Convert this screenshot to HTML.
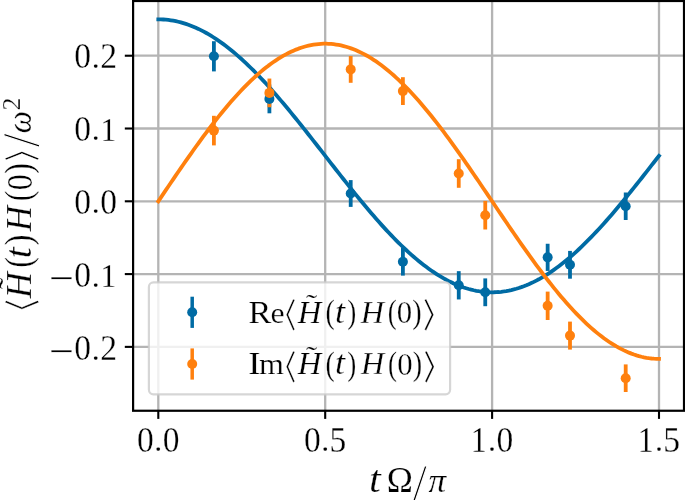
<!DOCTYPE html>
<html><head><meta charset="utf-8"><title>plot</title>
<style>html,body{margin:0;padding:0;background:#fff}svg{display:block}</style></head>
<body>
<svg width="685" height="500" viewBox="0 0 685 500">
<rect width="685" height="500" fill="#fff"/>
<g stroke="#b4b4b4" stroke-width="2.3" fill="none">
<line x1="158.30" y1="1.00" x2="158.30" y2="410.75"/>
<line x1="325.20" y1="1.00" x2="325.20" y2="410.75"/>
<line x1="492.10" y1="1.00" x2="492.10" y2="410.75"/>
<line x1="659.00" y1="1.00" x2="659.00" y2="410.75"/>
<line x1="133.10" y1="346.88" x2="684.00" y2="346.88"/>
<line x1="133.10" y1="274.09" x2="684.00" y2="274.09"/>
<line x1="133.10" y1="201.30" x2="684.00" y2="201.30"/>
<line x1="133.10" y1="128.51" x2="684.00" y2="128.51"/>
<line x1="133.10" y1="55.72" x2="684.00" y2="55.72"/>
</g>
<polyline points="158.30,19.33 160.80,19.36 163.31,19.48 165.81,19.67 168.31,19.93 170.82,20.27 173.32,20.69 175.82,21.18 178.33,21.74 180.83,22.38 183.34,23.10 185.84,23.88 188.34,24.74 190.85,25.68 193.35,26.68 195.85,27.76 198.36,28.91 200.86,30.13 203.36,31.42 205.87,32.77 208.37,34.20 210.87,35.69 213.38,37.25 215.88,38.88 218.38,40.57 220.89,42.33 223.39,44.14 225.89,46.02 228.40,47.96 230.90,49.97 233.41,52.03 235.91,54.14 238.41,56.32 240.92,58.54 243.42,60.83 245.92,63.16 248.43,65.55 250.93,67.99 253.43,70.47 255.94,73.01 258.44,75.58 260.94,78.21 263.45,80.87 265.95,83.58 268.45,86.33 270.96,89.12 273.46,91.94 275.96,94.80 278.47,97.70 280.97,100.62 283.48,103.58 285.98,106.56 288.48,109.57 290.99,112.61 293.49,115.68 295.99,118.76 298.50,121.86 301.00,124.99 303.50,128.13 306.01,131.29 308.51,134.46 311.01,137.64 313.52,140.83 316.02,144.03 318.52,147.24 321.03,150.45 323.53,153.66 326.03,156.88 328.54,160.09 331.04,163.31 333.55,166.51 336.05,169.72 338.55,172.91 341.06,176.10 343.56,179.27 346.06,182.43 348.57,185.58 351.07,188.71 353.57,191.82 356.08,194.91 358.58,197.98 361.08,201.03 363.59,204.05 366.09,207.04 368.59,210.01 371.10,212.95 373.60,215.85 376.10,218.72 378.61,221.56 381.11,224.36 383.62,227.12 386.12,229.84 388.62,232.52 391.13,235.16 393.63,237.75 396.13,240.30 398.64,242.80 401.14,245.26 403.64,247.66 406.15,250.01 408.65,252.31 411.15,254.56 413.66,256.75 416.16,258.89 418.66,260.97 421.17,262.99 423.67,264.95 426.17,266.85 428.68,268.69 431.18,270.46 433.69,272.18 436.19,273.82 438.69,275.41 441.20,276.92 443.70,278.37 446.20,279.75 448.71,281.06 451.21,282.30 453.71,283.48 456.22,284.58 458.72,285.61 461.22,286.57 463.73,287.45 466.23,288.26 468.73,289.00 471.24,289.67 473.74,290.26 476.24,290.77 478.75,291.21 481.25,291.58 483.75,291.87 486.26,292.08 488.76,292.22 491.27,292.28 493.77,292.27 496.27,292.18 498.78,292.02 501.28,291.78 503.78,291.46 506.29,291.07 508.79,290.61 511.29,290.07 513.80,289.45 516.30,288.76 518.80,288.00 521.31,287.16 523.81,286.25 526.31,285.27 528.82,284.22 531.32,283.09 533.83,281.90 536.33,280.63 538.83,279.30 541.34,277.89 543.84,276.42 546.34,274.89 548.85,273.28 551.35,271.61 553.85,269.88 556.36,268.08 558.86,266.22 561.36,264.30 563.87,262.32 566.37,260.28 568.87,258.18 571.38,256.03 573.88,253.82 576.38,251.55 578.89,249.23 581.39,246.86 583.89,244.44 586.40,241.97 588.90,239.46 591.41,236.89 593.91,234.28 596.41,231.63 598.92,228.94 601.42,226.20 603.92,223.43 606.43,220.62 608.93,217.77 611.43,214.89 613.94,211.97 616.44,209.02 618.94,206.05 621.45,203.04 623.95,200.01 626.45,196.96 628.96,193.88 631.46,190.78 633.97,187.67 636.47,184.53 638.97,181.38 641.48,178.21 643.98,175.04 646.48,171.85 648.99,168.65 651.49,165.45 653.99,162.24 656.50,159.02 659.00,155.81" fill="none" stroke="#006BA4" stroke-width="3.8" stroke-linejoin="round" stroke-linecap="square"/>
<polyline points="158.30,201.30 160.80,197.59 163.31,193.88 165.81,190.17 168.31,186.47 170.82,182.78 173.32,179.09 175.82,175.42 178.33,171.77 180.83,168.13 183.34,164.51 185.84,160.91 188.34,157.33 190.85,153.78 193.35,150.25 195.85,146.75 198.36,143.29 200.86,139.85 203.36,136.45 205.87,133.08 208.37,129.75 210.87,126.47 213.38,123.22 215.88,120.01 218.38,116.86 220.89,113.74 223.39,110.68 225.89,107.67 228.40,104.71 230.90,101.80 233.41,98.95 235.91,96.16 238.41,93.42 240.92,90.74 243.42,88.13 245.92,85.57 248.43,83.09 250.93,80.66 253.43,78.31 255.94,76.02 258.44,73.80 260.94,71.66 263.45,69.58 265.95,67.58 268.45,65.65 270.96,63.80 273.46,62.02 275.96,60.32 278.47,58.70 280.97,57.16 283.48,55.70 285.98,54.32 288.48,53.02 290.99,51.81 293.49,50.67 295.99,49.62 298.50,48.66 301.00,47.78 303.50,46.98 306.01,46.27 308.51,45.65 311.01,45.11 313.52,44.66 316.02,44.29 318.52,44.02 321.03,43.83 323.53,43.72 326.03,43.71 328.54,43.78 331.04,43.94 333.55,44.19 336.05,44.53 338.55,44.95 341.06,45.46 343.56,46.05 346.06,46.73 348.57,47.50 351.07,48.35 353.57,49.29 356.08,50.31 358.58,51.42 361.08,52.61 363.59,53.88 366.09,55.23 368.59,56.67 371.10,58.18 373.60,59.78 376.10,61.45 378.61,63.20 381.11,65.03 383.62,66.93 386.12,68.91 388.62,70.96 391.13,73.08 393.63,75.27 396.13,77.54 398.64,79.87 401.14,82.27 403.64,84.74 406.15,87.27 408.65,89.86 411.15,92.52 413.66,95.24 416.16,98.01 418.66,100.85 421.17,103.73 423.67,106.68 426.17,109.67 428.68,112.72 431.18,115.81 433.69,118.96 436.19,122.15 438.69,125.38 441.20,128.65 443.70,131.97 446.20,135.32 448.71,138.71 451.21,142.14 453.71,145.59 456.22,149.08 458.72,152.60 461.22,156.15 463.73,159.71 466.23,163.31 468.73,166.92 471.24,170.55 473.74,174.20 476.24,177.87 478.75,181.55 481.25,185.24 483.75,188.94 486.26,192.64 488.76,196.35 491.27,200.06 493.77,203.78 496.27,207.49 498.78,211.20 501.28,214.90 503.78,218.59 506.29,222.28 508.79,225.95 511.29,229.61 513.80,233.26 516.30,236.89 518.80,240.49 521.31,244.08 523.81,247.64 526.31,251.18 528.82,254.68 531.32,258.16 533.83,261.61 536.33,265.02 538.83,268.40 541.34,271.74 543.84,275.04 546.34,278.30 548.85,281.52 551.35,284.70 553.85,287.82 556.36,290.90 558.86,293.93 561.36,296.91 563.87,299.84 566.37,302.71 568.87,305.52 571.38,308.28 573.88,310.97 576.38,313.61 578.89,316.18 581.39,318.69 583.89,321.14 586.40,323.51 588.90,325.82 591.41,328.07 593.91,330.24 596.41,332.34 598.92,334.36 601.42,336.31 603.92,338.19 606.43,339.99 608.93,341.72 611.43,343.36 613.94,344.93 616.44,346.42 618.94,347.83 621.45,349.15 623.95,350.40 626.45,351.56 628.96,352.64 631.46,353.63 633.97,354.54 636.47,355.36 638.97,356.10 641.48,356.76 643.98,357.32 646.48,357.80 648.99,358.20 651.49,358.50 653.99,358.72 656.50,358.85 659.00,358.89" fill="none" stroke="#FF800E" stroke-width="3.8" stroke-linejoin="round" stroke-linecap="square"/>
<line x1="213.90" y1="41.20" x2="213.90" y2="71.40" stroke="#006BA4" stroke-width="3.8"/>
<line x1="269.40" y1="84.50" x2="269.40" y2="113.30" stroke="#006BA4" stroke-width="3.8"/>
<line x1="350.70" y1="180.10" x2="350.70" y2="206.90" stroke="#006BA4" stroke-width="3.8"/>
<line x1="402.90" y1="248.00" x2="402.90" y2="275.60" stroke="#006BA4" stroke-width="3.8"/>
<line x1="458.75" y1="271.15" x2="458.75" y2="299.45" stroke="#006BA4" stroke-width="3.8"/>
<line x1="485.25" y1="278.40" x2="485.25" y2="306.20" stroke="#006BA4" stroke-width="3.8"/>
<line x1="547.65" y1="243.75" x2="547.65" y2="270.95" stroke="#006BA4" stroke-width="3.8"/>
<line x1="570.00" y1="250.90" x2="570.00" y2="278.70" stroke="#006BA4" stroke-width="3.8"/>
<line x1="625.70" y1="192.50" x2="625.70" y2="220.00" stroke="#006BA4" stroke-width="3.8"/>
<line x1="213.90" y1="115.80" x2="213.90" y2="145.40" stroke="#FF800E" stroke-width="3.8"/>
<line x1="269.40" y1="78.55" x2="269.40" y2="107.25" stroke="#FF800E" stroke-width="3.8"/>
<line x1="350.70" y1="56.00" x2="350.70" y2="82.80" stroke="#FF800E" stroke-width="3.8"/>
<line x1="402.90" y1="77.20" x2="402.90" y2="105.00" stroke="#FF800E" stroke-width="3.8"/>
<line x1="458.75" y1="159.20" x2="458.75" y2="187.80" stroke="#FF800E" stroke-width="3.8"/>
<line x1="485.25" y1="200.90" x2="485.25" y2="229.50" stroke="#FF800E" stroke-width="3.8"/>
<line x1="547.65" y1="291.60" x2="547.65" y2="320.00" stroke="#FF800E" stroke-width="3.8"/>
<line x1="570.00" y1="321.60" x2="570.00" y2="349.60" stroke="#FF800E" stroke-width="3.8"/>
<line x1="625.70" y1="364.40" x2="625.70" y2="392.00" stroke="#FF800E" stroke-width="3.8"/>
<circle cx="213.90" cy="56.30" r="5.0" fill="#006BA4"/>
<circle cx="269.40" cy="98.90" r="5.0" fill="#006BA4"/>
<circle cx="350.70" cy="193.50" r="5.0" fill="#006BA4"/>
<circle cx="402.90" cy="261.80" r="5.0" fill="#006BA4"/>
<circle cx="458.75" cy="285.30" r="5.0" fill="#006BA4"/>
<circle cx="485.25" cy="292.30" r="5.0" fill="#006BA4"/>
<circle cx="547.65" cy="257.35" r="5.0" fill="#006BA4"/>
<circle cx="570.00" cy="264.80" r="5.0" fill="#006BA4"/>
<circle cx="625.70" cy="206.25" r="5.0" fill="#006BA4"/>
<circle cx="213.90" cy="130.60" r="5.0" fill="#FF800E"/>
<circle cx="269.40" cy="92.90" r="5.0" fill="#FF800E"/>
<circle cx="350.70" cy="69.40" r="5.0" fill="#FF800E"/>
<circle cx="402.90" cy="91.10" r="5.0" fill="#FF800E"/>
<circle cx="458.75" cy="173.50" r="5.0" fill="#FF800E"/>
<circle cx="485.25" cy="215.20" r="5.0" fill="#FF800E"/>
<circle cx="547.65" cy="305.80" r="5.0" fill="#FF800E"/>
<circle cx="570.00" cy="335.60" r="5.0" fill="#FF800E"/>
<circle cx="625.70" cy="378.20" r="5.0" fill="#FF800E"/>
<g stroke="#000" stroke-width="2.1">
<line x1="158.30" y1="410.75" x2="158.30" y2="418.90"/>
<line x1="325.20" y1="410.75" x2="325.20" y2="418.90"/>
<line x1="492.10" y1="410.75" x2="492.10" y2="418.90"/>
<line x1="659.00" y1="410.75" x2="659.00" y2="418.90"/>
<line x1="124.80" y1="346.88" x2="133.10" y2="346.88"/>
<line x1="124.80" y1="274.09" x2="133.10" y2="274.09"/>
<line x1="124.80" y1="201.30" x2="133.10" y2="201.30"/>
<line x1="124.80" y1="128.51" x2="133.10" y2="128.51"/>
<line x1="124.80" y1="55.72" x2="133.10" y2="55.72"/>
</g>
<rect x="133.10" y="1.00" width="550.90" height="409.75" fill="none" stroke="#000" stroke-width="2.2"/>
<rect x="148.9" y="282.4" width="301.2" height="111.9" rx="4.5" ry="4.5" fill="#fff" fill-opacity="0.8" stroke="#ccc" stroke-opacity="0.8" stroke-width="2.2"/>
<line x1="192.20" y1="296.70" x2="192.20" y2="327.90" stroke="#006BA4" stroke-width="3.5"/><circle cx="192.20" cy="312.30" r="5.0" fill="#006BA4"/>
<line x1="192.20" y1="348.40" x2="192.20" y2="379.60" stroke="#FF800E" stroke-width="3.5"/><circle cx="192.20" cy="364.00" r="5.0" fill="#FF800E"/>
<g font-size="100" fill="#000" stroke="#fff" stroke-width="0.25" vector-effect="non-scaling-stroke">
<text vector-effect="non-scaling-stroke" transform="matrix(0.3357 0 0 0.3564 136.98 451.78)" font-family="'Liberation Serif','DejaVu Serif',serif">0</text><text vector-effect="non-scaling-stroke" transform="matrix(0.3190 0 0 0.3258 154.31 451.06)" font-family="'Liberation Serif','DejaVu Serif',serif">.</text><text vector-effect="non-scaling-stroke" transform="matrix(0.3357 0 0 0.3564 162.81 451.78)" font-family="'Liberation Serif','DejaVu Serif',serif">0</text>
<text vector-effect="non-scaling-stroke" transform="matrix(0.3357 0 0 0.3564 303.88 451.78)" font-family="'Liberation Serif','DejaVu Serif',serif">0</text><text vector-effect="non-scaling-stroke" transform="matrix(0.3190 0 0 0.3258 321.21 451.06)" font-family="'Liberation Serif','DejaVu Serif',serif">.</text><text vector-effect="non-scaling-stroke" transform="matrix(0.3350 0 0 0.3619 329.40 451.77)" font-family="'Liberation Serif','DejaVu Serif',serif">5</text>
<text vector-effect="non-scaling-stroke" transform="matrix(0.3221 0 0 0.3492 470.82 451.52)" font-family="'Liberation Serif','DejaVu Serif',serif">1</text><text vector-effect="non-scaling-stroke" transform="matrix(0.3190 0 0 0.3258 488.11 451.06)" font-family="'Liberation Serif','DejaVu Serif',serif">.</text><text vector-effect="non-scaling-stroke" transform="matrix(0.3357 0 0 0.3564 496.61 451.78)" font-family="'Liberation Serif','DejaVu Serif',serif">0</text>
<text vector-effect="non-scaling-stroke" transform="matrix(0.3221 0 0 0.3492 637.72 451.52)" font-family="'Liberation Serif','DejaVu Serif',serif">1</text><text vector-effect="non-scaling-stroke" transform="matrix(0.3190 0 0 0.3258 655.01 451.06)" font-family="'Liberation Serif','DejaVu Serif',serif">.</text><text vector-effect="non-scaling-stroke" transform="matrix(0.3350 0 0 0.3619 663.20 451.77)" font-family="'Liberation Serif','DejaVu Serif',serif">5</text>
<text vector-effect="non-scaling-stroke" transform="matrix(0.4413 0 0 0.4116 49.07 365.25)" font-family="'Liberation Serif','DejaVu Serif',serif">−</text><text vector-effect="non-scaling-stroke" transform="matrix(0.3357 0 0 0.3534 74.36 360.26)" font-family="'Liberation Serif','DejaVu Serif',serif">0</text><text vector-effect="non-scaling-stroke" transform="matrix(0.3190 0 0 0.3258 91.70 359.54)" font-family="'Liberation Serif','DejaVu Serif',serif">.</text><text vector-effect="non-scaling-stroke" transform="matrix(0.3367 0 0 0.3512 100.36 360.00)" font-family="'Liberation Serif','DejaVu Serif',serif">2</text>
<text vector-effect="non-scaling-stroke" transform="matrix(0.4413 0 0 0.4116 49.07 292.46)" font-family="'Liberation Serif','DejaVu Serif',serif">−</text><text vector-effect="non-scaling-stroke" transform="matrix(0.3357 0 0 0.3534 74.36 287.47)" font-family="'Liberation Serif','DejaVu Serif',serif">0</text><text vector-effect="non-scaling-stroke" transform="matrix(0.3190 0 0 0.3258 91.70 286.75)" font-family="'Liberation Serif','DejaVu Serif',serif">.</text><text vector-effect="non-scaling-stroke" transform="matrix(0.3221 0 0 0.3461 100.23 287.22)" font-family="'Liberation Serif','DejaVu Serif',serif">1</text>
<text vector-effect="non-scaling-stroke" transform="matrix(0.3357 0 0 0.3534 74.36 213.88)" font-family="'Liberation Serif','DejaVu Serif',serif">0</text><text vector-effect="non-scaling-stroke" transform="matrix(0.3190 0 0 0.3258 91.70 213.16)" font-family="'Liberation Serif','DejaVu Serif',serif">.</text><text vector-effect="non-scaling-stroke" transform="matrix(0.3357 0 0 0.3534 100.19 213.88)" font-family="'Liberation Serif','DejaVu Serif',serif">0</text>
<text vector-effect="non-scaling-stroke" transform="matrix(0.3357 0 0 0.3534 74.36 141.09)" font-family="'Liberation Serif','DejaVu Serif',serif">0</text><text vector-effect="non-scaling-stroke" transform="matrix(0.3190 0 0 0.3258 91.70 140.37)" font-family="'Liberation Serif','DejaVu Serif',serif">.</text><text vector-effect="non-scaling-stroke" transform="matrix(0.3221 0 0 0.3461 100.23 140.83)" font-family="'Liberation Serif','DejaVu Serif',serif">1</text>
<text vector-effect="non-scaling-stroke" transform="matrix(0.3357 0 0 0.3534 74.36 68.30)" font-family="'Liberation Serif','DejaVu Serif',serif">0</text><text vector-effect="non-scaling-stroke" transform="matrix(0.3190 0 0 0.3258 91.70 67.58)" font-family="'Liberation Serif','DejaVu Serif',serif">.</text><text vector-effect="non-scaling-stroke" transform="matrix(0.3367 0 0 0.3512 100.36 68.05)" font-family="'Liberation Serif','DejaVu Serif',serif">2</text>
<text vector-effect="non-scaling-stroke" transform="matrix(0.4234 0 0 0.3780 368.91 491.86)" font-family="'Liberation Serif','DejaVu Serif',serif" font-style="italic">t</text>
<text vector-effect="non-scaling-stroke" transform="matrix(0.3525 0 0 0.3481 386.75 491.93)" font-family="'Liberation Serif','DejaVu Serif',serif">Ω</text>
<text vector-effect="non-scaling-stroke" stroke-width="1.00" transform="matrix(0.5219 0 0 0.5232 412.50 500.59)" font-family="'Liberation Serif','DejaVu Serif',serif">/</text>
<text vector-effect="non-scaling-stroke" transform="matrix(0.3519 0 0 0.3275 428.39 491.91)" font-family="'Liberation Serif','DejaVu Serif',serif" font-style="italic">π</text>
<text vector-effect="non-scaling-stroke" transform="matrix(0.3479 0 0 0.3230 248.37 322.62)" font-family="'Liberation Serif','DejaVu Serif',serif">R</text>
<text vector-effect="non-scaling-stroke" transform="matrix(0.3175 0 0 0.2880 270.53 322.74)" font-family="'Liberation Serif','DejaVu Serif',serif">e</text>
<text vector-effect="non-scaling-stroke" transform="matrix(0.2319 0 0 0.3374 272.84 327.92)" font-family="'Noto Sans CJK SC','Noto Sans CJK JP',sans-serif">〈</text>
<text vector-effect="non-scaling-stroke" transform="matrix(0.3272 0 0 0.3230 297.83 322.62)" font-family="'Liberation Serif','DejaVu Serif',serif" font-style="italic">H</text>
<text vector-effect="non-scaling-stroke" transform="matrix(0.3366 0 0 0.2540 305.98 311.79)" font-family="'Liberation Serif','DejaVu Serif',serif">˜</text>
<text vector-effect="non-scaling-stroke" transform="matrix(0.2784 0 0 0.3468 325.45 323.44)" font-family="'Liberation Serif','DejaVu Serif',serif">(</text>
<text vector-effect="non-scaling-stroke" transform="matrix(0.3604 0 0 0.3413 334.89 322.59)" font-family="'Liberation Serif','DejaVu Serif',serif" font-style="italic">t</text>
<text vector-effect="non-scaling-stroke" transform="matrix(0.2706 0 0 0.3468 347.30 323.44)" font-family="'Liberation Serif','DejaVu Serif',serif">)</text>
<text vector-effect="non-scaling-stroke" transform="matrix(0.3220 0 0 0.3230 360.72 322.62)" font-family="'Liberation Serif','DejaVu Serif',serif" font-style="italic">H</text>
<text vector-effect="non-scaling-stroke" transform="matrix(0.2706 0 0 0.3468 387.69 323.44)" font-family="'Liberation Serif','DejaVu Serif',serif">(</text>
<text vector-effect="non-scaling-stroke" transform="matrix(0.3079 0 0 0.3179 396.80 322.91)" font-family="'Liberation Serif','DejaVu Serif',serif">0</text>
<text vector-effect="non-scaling-stroke" transform="matrix(0.2823 0 0 0.3468 412.37 323.44)" font-family="'Liberation Serif','DejaVu Serif',serif">)</text>
<text vector-effect="non-scaling-stroke" transform="matrix(0.2514 0 0 0.3374 423.37 327.92)" font-family="'Noto Sans CJK SC','Noto Sans CJK JP',sans-serif">〉</text>
<text vector-effect="non-scaling-stroke" transform="matrix(0.3802 0 0 0.3230 248.00 374.43)" font-family="'Liberation Serif','DejaVu Serif',serif">I</text>
<text vector-effect="non-scaling-stroke" transform="matrix(0.3204 0 0 0.2854 259.10 374.43)" font-family="'Liberation Serif','DejaVu Serif',serif">m</text>
<text vector-effect="non-scaling-stroke" transform="matrix(0.2319 0 0 0.3374 272.84 379.72)" font-family="'Noto Sans CJK SC','Noto Sans CJK JP',sans-serif">〈</text>
<text vector-effect="non-scaling-stroke" transform="matrix(0.3272 0 0 0.3230 297.83 374.43)" font-family="'Liberation Serif','DejaVu Serif',serif" font-style="italic">H</text>
<text vector-effect="non-scaling-stroke" transform="matrix(0.3366 0 0 0.2540 305.98 363.59)" font-family="'Liberation Serif','DejaVu Serif',serif">˜</text>
<text vector-effect="non-scaling-stroke" transform="matrix(0.2784 0 0 0.3468 325.45 375.24)" font-family="'Liberation Serif','DejaVu Serif',serif">(</text>
<text vector-effect="non-scaling-stroke" transform="matrix(0.3604 0 0 0.3413 334.89 374.39)" font-family="'Liberation Serif','DejaVu Serif',serif" font-style="italic">t</text>
<text vector-effect="non-scaling-stroke" transform="matrix(0.2706 0 0 0.3468 347.30 375.24)" font-family="'Liberation Serif','DejaVu Serif',serif">)</text>
<text vector-effect="non-scaling-stroke" transform="matrix(0.3220 0 0 0.3230 361.12 374.43)" font-family="'Liberation Serif','DejaVu Serif',serif" font-style="italic">H</text>
<text vector-effect="non-scaling-stroke" transform="matrix(0.2706 0 0 0.3468 388.09 375.24)" font-family="'Liberation Serif','DejaVu Serif',serif">(</text>
<text vector-effect="non-scaling-stroke" transform="matrix(0.3079 0 0 0.3179 397.20 374.71)" font-family="'Liberation Serif','DejaVu Serif',serif">0</text>
<text vector-effect="non-scaling-stroke" transform="matrix(0.2823 0 0 0.3468 412.77 375.24)" font-family="'Liberation Serif','DejaVu Serif',serif">)</text>
<text vector-effect="non-scaling-stroke" transform="matrix(0.2514 0 0 0.3374 423.77 379.72)" font-family="'Noto Sans CJK SC','Noto Sans CJK JP',sans-serif">〉</text>
<g transform="rotate(-90)">
<text vector-effect="non-scaling-stroke" transform="matrix(0.2347 0 0 0.3632 -322.93 36.00)" font-family="'Noto Sans CJK SC','Noto Sans CJK JP',sans-serif">〈</text>
<text vector-effect="non-scaling-stroke" transform="matrix(0.3606 0 0 0.3642 -298.34 31.12)" font-family="'Liberation Serif','DejaVu Serif',serif" font-style="italic">H</text>
<text vector-effect="non-scaling-stroke" transform="matrix(0.3492 0 0 0.2853 -289.23 19.10)" font-family="'Liberation Serif','DejaVu Serif',serif">˜</text>
<text vector-effect="non-scaling-stroke" transform="matrix(0.3212 0 0 0.3755 -267.64 31.13)" font-family="'Liberation Serif','DejaVu Serif',serif">(</text>
<text vector-effect="non-scaling-stroke" transform="matrix(0.3958 0 0 0.3797 -258.26 31.05)" font-family="'Liberation Serif','DejaVu Serif',serif" font-style="italic">t</text>
<text vector-effect="non-scaling-stroke" transform="matrix(0.3212 0 0 0.3755 -245.16 31.13)" font-family="'Liberation Serif','DejaVu Serif',serif">)</text>
<text vector-effect="non-scaling-stroke" transform="matrix(0.3516 0 0 0.3642 -231.25 31.12)" font-family="'Liberation Serif','DejaVu Serif',serif" font-style="italic">H</text>
<text vector-effect="non-scaling-stroke" transform="matrix(0.3134 0 0 0.3755 -201.20 31.13)" font-family="'Liberation Serif','DejaVu Serif',serif">(</text>
<text vector-effect="non-scaling-stroke" transform="matrix(0.3221 0 0 0.3594 -190.35 31.57)" font-family="'Liberation Serif','DejaVu Serif',serif">0</text>
<text vector-effect="non-scaling-stroke" transform="matrix(0.3134 0 0 0.3755 -173.54 31.13)" font-family="'Liberation Serif','DejaVu Serif',serif">)</text>
<text vector-effect="non-scaling-stroke" transform="matrix(0.2236 0 0 0.3632 -161.09 36.00)" font-family="'Noto Sans CJK SC','Noto Sans CJK JP',sans-serif">〉</text>
<text vector-effect="non-scaling-stroke" stroke-width="1.00" transform="matrix(0.5039 0 0 0.5202 -147.25 38.99)" font-family="'Liberation Serif','DejaVu Serif',serif">/</text>
<text vector-effect="non-scaling-stroke" transform="matrix(0.3124 0 0 0.3312 -133.16 31.20)" font-family="'Liberation Serif','DejaVu Serif',serif" font-style="italic">ω</text>
<text vector-effect="non-scaling-stroke" transform="matrix(0.2582 0 0 0.2545 -110.56 19.62)" font-family="'Liberation Serif','DejaVu Serif',serif">2</text>
</g>
</g>
</svg>
</body></html>
